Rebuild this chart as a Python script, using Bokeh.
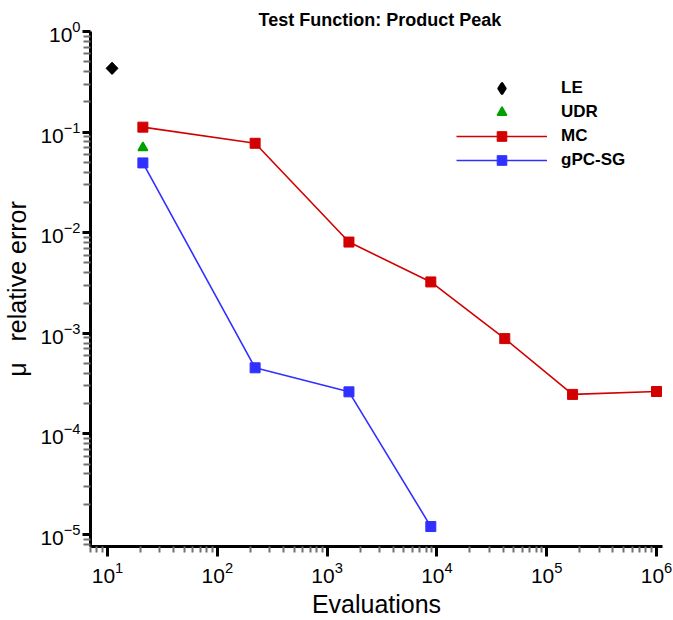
import math

from bokeh.embed import file_html
from bokeh.models import FixedTicker, Legend, LegendItem, LogTickFormatter, Range1d
from bokeh.plotting import figure
from bokeh.resources import INLINE

# Relative error of the mean vs. number of model evaluations
le_x = [11]
le_y = [0.43]

udr_x = [21]
udr_y = [0.070]

mc_x = [21, 221, 1581, 8801, 41500, 172000, 1000000]
mc_y = [0.112, 0.0774, 0.00807, 0.00324, 0.000886, 0.000247, 0.000264]

gpc_x = [21, 221, 1581, 8801]
gpc_y = [0.0494, 0.000454, 0.000262, 1.2e-5]

x_ticks = [10, 100, 1000, 10000, 100000, 1000000]
y_ticks = [1e-5, 1e-4, 1e-3, 1e-2, 1e-1, 1.0]

FONT = "Liberation Sans"

p = figure(
    width=673, height=620,
    x_axis_type="log", y_axis_type="log",
    x_range=Range1d(7.0, 1.134e6), y_range=Range1d(7.6e-6, 1.0),
    output_backend="svg", toolbar_location=None,
    min_border_left=89, min_border_right=11,
    min_border_top=31, min_border_bottom=73,
    title="Test Function: Product Peak",
)
p.outline_line_color = None
p.grid.visible = False
p.background_fill_color = "white"

p.title.align = "left"
p.title.offset = 168
p.title.standoff = 4
p.title.text_font = FONT
p.title.text_font_size = "18px"
p.title.text_font_style = "bold"
p.title.text_color = "black"

# minor ticks at 2..9 times each decade
x_minor = [m * 10 ** e for e in range(0, 6) for m in range(2, 10) if 7 <= m * 10 ** e < 1e6]
y_minor = [m * 10.0 ** e for e in range(-6, 0) for m in range(2, 10) if 7.6e-6 <= m * 10.0 ** e < 1.0]

p.xaxis.ticker = FixedTicker(ticks=x_ticks, minor_ticks=x_minor)
p.yaxis.ticker = FixedTicker(ticks=y_ticks, minor_ticks=y_minor)
p.xaxis.formatter = LogTickFormatter()
p.yaxis.formatter = LogTickFormatter()

for ax in (p.xaxis[0], p.yaxis[0]):
    ax.axis_line_width = 3
    ax.axis_line_color = "black"
    ax.major_tick_in = 0
    ax.minor_tick_in = 0
    ax.major_tick_line_width = 3
    ax.major_tick_line_color = "black"
    ax.minor_tick_line_width = 2
    ax.minor_tick_line_color = "#707070"
    ax.major_label_text_font = FONT
    ax.major_label_text_font_size = "21px"
    ax.major_label_text_color = "black"
    ax.axis_label_text_font = FONT
    ax.axis_label_text_font_size = "25px"
    ax.axis_label_text_font_style = "normal"
    ax.axis_label_text_color = "black"

p.xaxis.major_tick_out = 10
p.xaxis.minor_tick_out = 6
p.xaxis.major_label_standoff = 5
p.xaxis.axis_label = "Evaluations"
p.xaxis.axis_label_standoff = 4

p.yaxis.major_tick_out = 8
p.yaxis.minor_tick_out = 7
p.yaxis.major_label_standoff = 2
p.yaxis.axis_label = "μ\u00a0\u00a0\u00a0relative error"
p.yaxis.axis_label_standoff = 6

RED = "#d20000"
BLUE = "#3030ff"
GREEN = "#00a000"

# rotated square gives an evenly proportioned diamond
le = p.scatter(le_x, le_y, marker="square", size=8.5, angle=math.pi / 4,
               fill_color="black", line_color="black")
# diamond marker on the same point, used as the legend key
# (the legend does not rotate markers); the thick round outline widens it
le_key = p.scatter(le_x, le_y, marker="diamond", size=8.5,
                   fill_color="black", line_color="black",
                   line_width=3, line_join="round")
udr = p.scatter(udr_x, udr_y, marker="triangle", size=9.5,
                fill_color=GREEN, line_color=GREEN, line_width=1.5)
mc_line = p.line(mc_x, mc_y, line_color=RED, line_width=1.6)
mc_pts = p.scatter(mc_x, mc_y, marker="square", size=10,
                   fill_color=RED, line_color=RED)
gpc_line = p.line(gpc_x, gpc_y, line_color=BLUE, line_width=1.6)
gpc_pts = p.scatter(gpc_x, gpc_y, marker="square", size=10,
                    fill_color=BLUE, line_color=BLUE)

legend = Legend(
    items=[
        LegendItem(label="LE", renderers=[le_key]),
        LegendItem(label="UDR", renderers=[udr]),
        LegendItem(label="MC", renderers=[mc_line, mc_pts]),
        LegendItem(label="gPC-SG", renderers=[gpc_line, gpc_pts]),
    ],
    location=(366, 374),
    glyph_width=91, glyph_height=24,
    label_height=24, label_standoff=14, spacing=0,
    padding=0, margin=0,
    border_line_color=None, background_fill_alpha=0,
    label_text_font=FONT, label_text_font_size="17px",
    label_text_font_style="bold", label_text_color="black",
)
p.add_layout(legend, "center")

open("out.html", "w").write(file_html(p, INLINE))
